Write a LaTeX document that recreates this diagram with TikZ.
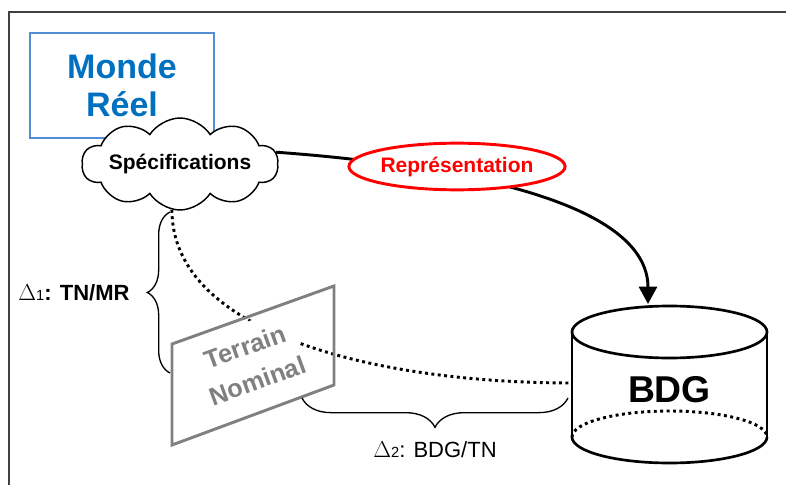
\documentclass[tikz,border=0pt]{standalone}
\usepackage{fontspec}
\setmainfont{Liberation Sans}
\usetikzlibrary{shapes.symbols,shapes.geometric,arrows.meta,decorations.pathreplacing}

\definecolor{mondeblue}{RGB}{0,112,192}
\definecolor{mondeframe}{RGB}{85,142,213}
\definecolor{tngray}{RGB}{128,128,128}
\definecolor{framegray}{RGB}{64,64,64}

\tikzset{every picture/.style={line width=0.75pt}}
\tikzset{
  bracebig/.style={decorate,decoration={brace,amplitude=#1},line width=1pt},
  dotline/.style={line width=2.2pt,dash pattern={on 2.2pt off 2.6pt}},
}

\begin{document}
\begin{tikzpicture}[x=0.75pt,y=0.75pt,yscale=-1,xscale=1]
\useasboundingbox (0,0) rectangle (786,485);

%Frame
\draw [color=framegray, line width=1.5pt] (786,12) -- (9,12) -- (9,485) ;

%Monde Reel
\node [draw=mondeframe, line width=2.2pt, minimum width=138pt, minimum height=78.75pt, text=mondeblue, font=\fontsize{25.5}{28.5}\selectfont\bfseries, align=center] (monde) at (122,85.5) {Monde\\Réel};

%Specifications
\node [cloud, cloud puffs=10, cloud puff arc=115, cloud ignores aspect, draw, fill=white, line width=1.1pt, minimum width=146pt, minimum height=69pt, inner sep=0pt, font=\fontsize{15.75}{18}\selectfont\bfseries] (spec) at (180,164) {Spécifications};

%BDG cylinder
\coordinate (bdgtop) at (648,304);
\coordinate (bdgleft) at (572,383);
\draw [line width=2pt]  (669.5,332) ellipse [x radius=97.5, y radius=26] ;
\draw [line width=2pt]  (572,332) -- (572,437) ;
\draw [line width=2pt]  (767,332) -- (767,437) ;
\draw [line width=2pt]  (767,437) arc [start angle=0, end angle=180, x radius=97.5, y radius=26] ;
\draw [dotline]  (572,437) arc [start angle=180, end angle=360, x radius=97.5, y radius=26] ;
\node [font=\fontsize{28}{30}\selectfont\bfseries] (bdg) at (669.5,390) {BDG};

%Representation arrow
\draw [line width=2.2pt, -{Triangle[width=13.5pt,length=13pt]}]  (spec.7) .. controls (450,165) and (648,200) .. (bdgtop) ;
\node [ellipse, draw=red, fill=white, line width=2.2pt, text=red, minimum width=161pt, minimum height=35pt, inner sep=0pt, font=\fontsize{15.75}{18}\selectfont\bfseries] (repr) at (457,166.5) {Représentation};

%Terrain nominal
\draw [dotline]  (spec.-100) .. controls (172,335) and (380,383) .. (bdgleft) ;
\node [rotate=20, fill=white, text=tngray, inner xsep=1pt, inner ysep=10pt, align=center, font=\fontsize{19}{27}\selectfont\bfseries] (terrain) at (251.5,363.5) {Terrain\\Nominal};
\coordinate (tnA) at (172,344);
\coordinate (tnB) at (334,286);
\coordinate (tnC) at (334,385);
\coordinate (tnD) at (172,445);
\draw [color=tngray, line width=2.2pt]  (tnA) -- (tnB) -- (tnC) -- (tnD) -- cycle ;

%Braces
\coordinate (d1low) at (170,373);
\coordinate (d1up) at (170,212);
\draw [bracebig=17pt]  (d1low) -- (d1up) ;
\coordinate (d2left) at (302,398);
\coordinate (d2right) at (568,398);
\draw [bracebig=22pt]  (d2right) -- (d2left) ;

% Text Node
\node [anchor=base east, inner sep=0.75pt, font=\fontsize{16.5}{18}\selectfont] (done) at (131,300) {$\Delta${\fontsize{11}{11}\selectfont 1}\textbf{: TN/MR}};
% Text Node
\node [anchor=base, inner sep=0.75pt, font=\fontsize{16.5}{18}\selectfont] (dtwo) at (435,457) {$\Delta${\fontsize{11}{11}\selectfont 2}: BDG/TN};

\end{tikzpicture}
\end{document}
